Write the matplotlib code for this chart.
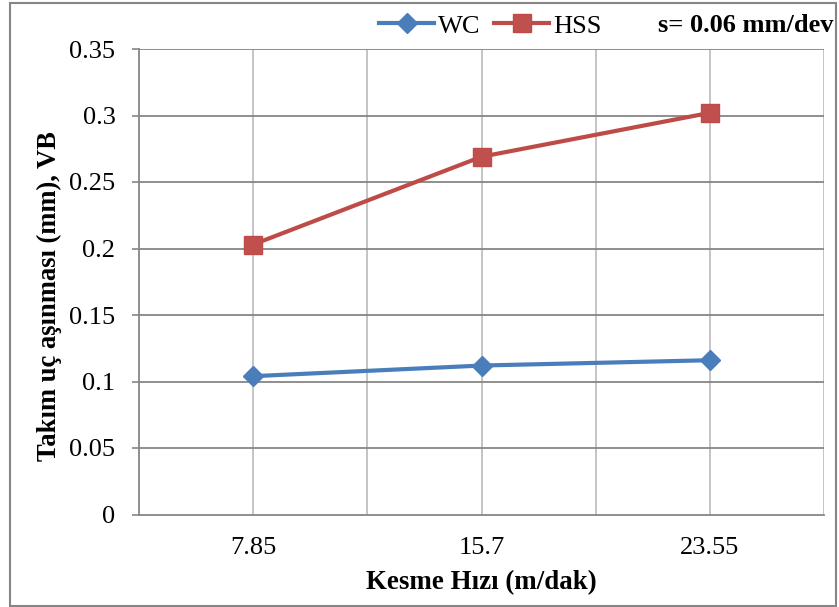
import matplotlib
matplotlib.use("Agg")
import matplotlib.pyplot as plt
from matplotlib.patches import Rectangle

# Data
speeds = ["7.85", "15.7", "23.55"]
wc_wear = [0.104, 0.112, 0.116]
hss_wear = [0.203, 0.269, 0.302]
y_ticks = [0, 0.05, 0.1, 0.15, 0.2, 0.25, 0.3, 0.35]
y_tick_labels = ["0", "0.05", "0.1", "0.15", "0.2", "0.25", "0.3", "0.35"]

plt.rcParams["font.family"] = ["Liberation Serif", "DejaVu Serif"]
FS = 19

fig = plt.figure(figsize=(8.39, 6.07), dpi=100)
ax = fig.add_axes([139 / 839, 1 - 514.5 / 607, (824 - 139) / 839, (514.5 - 49) / 607])

x = [i + 0.5 for i in range(len(speeds))]

ax.plot(x, wc_wear, color="#4a7ebb", lw=3.0, marker="D", ms=10,
        mfc="#4a7ebb", mec="#4a7ebb", label="WC", zorder=3, clip_on=False)
ax.plot(x, hss_wear, color="#be4b48", lw=3.0, marker="s", ms=13,
        mfc="#c0504d", mec="#be4b48", label="HSS", zorder=3, clip_on=False)

ax.set_xlim(0, len(speeds))
ax.set_ylim(0, 0.35)
ax.set_yticks(y_ticks)
ax.set_yticklabels(y_tick_labels, fontsize=FS)
ax.set_xticks(x)
ax.set_xticklabels(speeds, fontsize=FS)
ax.tick_params(axis="x", length=0, pad=16)
ax.tick_params(axis="y", length=5, width=1.2, color="#868686", pad=12)

# vertical gridlines at categories and between them
for gx in [0.5 * k for k in range(1, 2 * len(speeds) + 1)]:
    ax.axvline(gx, color="#bfbfbf", lw=1.3, zorder=1)
for gy in y_ticks[1:]:
    ax.axhline(gy, color="#868686", lw=1.3, zorder=1)

for side in ["top", "right"]:
    ax.spines[side].set_visible(False)
for side in ["left", "bottom"]:
    ax.spines[side].set_color("#868686")
    ax.spines[side].set_linewidth(1.3)

ax.set_xlabel("Kesme Hızı (m/dak)", fontsize=19.4, fontweight="bold", labelpad=8)
ax.set_ylabel("Takım uç aşınması (mm), VB", fontsize=19.2, fontweight="bold", labelpad=5)
ax.yaxis.label.set_y(0.469)

fig.legend(loc="center left", bbox_to_anchor=(379 / 839, 1 - 26 / 607), ncol=2,
           frameon=False, fontsize=FS, handlelength=2.1, handletextpad=0.15,
           columnspacing=0.5, borderaxespad=0, borderpad=0)

fig.text(833 / 839, 1 - 26 / 607, "s= 0.06 mm/dev", ha="right", va="center",
         fontsize=FS, fontweight="bold")

fig.patches.append(Rectangle((10 / 839, 1 / 607), (836 - 10) / 839, (604 - 1) / 607,
                             transform=fig.transFigure, fill=False,
                             edgecolor="#868686", lw=1.5))

fig.savefig("out.png", dpi=100)
